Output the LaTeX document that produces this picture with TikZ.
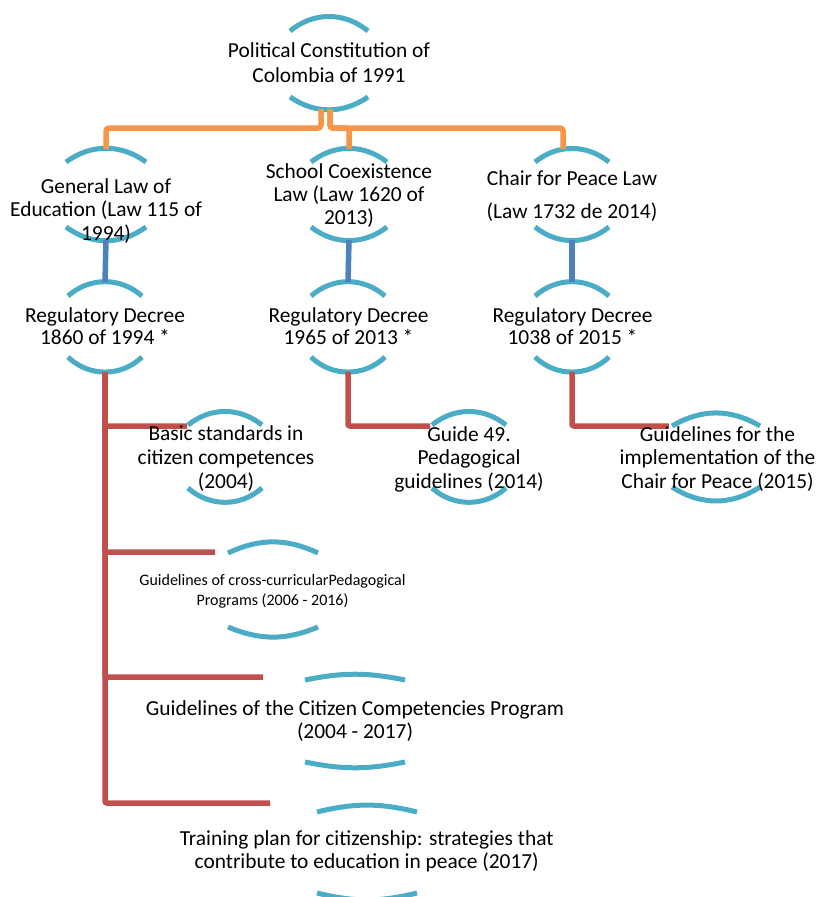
\documentclass[tikz,border=0pt]{standalone}
\usepackage{fontspec}
\setmainfont{Carlito}

\definecolor{ringcol}{HTML}{4BACC6}
\definecolor{orangecol}{HTML}{F79646}
\definecolor{bluecol}{HTML}{4F81BD}
\definecolor{redcol}{HTML}{C0504D}

\tikzset{
  ringarc/.style={draw=ringcol, line width=5pt},
  orangeline/.style={draw=orangecol, line width=5.5pt, rounded corners=3pt},
  blueline/.style={draw=bluecol, line width=5.5pt},
  redline/.style={draw=redcol, line width=5.5pt, rounded corners=2pt},
  boxtext/.style={align=center, inner sep=0pt, anchor=north, text=black,
                  font=\fontsize{21.4}{#1}\selectfont},
  boxtext/.default=25,
}

% A pair of arcs (one above, one below) framing a label.
% #1 name, #2 centre x, #3 half width, #4 top peak y, #5 top ends y,
% #6 bottom ends y, #7 bottom peak y   (y grows downwards)
\newcommand\ringpair[7]{%
  \pgfmathsetmacro\ringtop{2*atan(((#5)-(#4))/(#3))}%
  \pgfmathsetmacro\ringbot{2*atan(((#7)-(#6))/(#3))}%
  \coordinate (#1-t) at (#2,#4);
  \coordinate (#1-b) at (#2,#7);
  \draw[ringarc] (#2-#3,#5) to[bend left=\ringtop] (#2+#3,#5);
  \draw[ringarc] (#2-#3,#6) to[bend right=\ringbot] (#2+#3,#6);
}

\begin{document}
\begin{tikzpicture}[x=1pt, y=-1pt]
  \fill[white] (0,0) rectangle (818,897);
  \useasboundingbox (0,0) rectangle (818,897);

  % arcs
  \ringpair{const}{329}{39}{17}{31}{97}{109}
  \ringpair{gen}{106}{40}{149}{162}{227}{240}
  \ringpair{school}{349}{38}{149}{162}{227}{240}
  \ringpair{chair}{572}{37}{149}{162}{227}{240}
  \ringpair{decA}{105}{37}{282}{296}{357}{372}
  \ringpair{decB}{348}{37}{282}{296}{357}{372}
  \ringpair{decC}{572}{37}{282}{296}{357}{372}
  \ringpair{basic}{225}{37}{412}{425}{488}{502}
  \ringpair{guide}{469}{37}{412}{425}{488}{502}
  \ringpair{impl}{716}{44}{414}{426}{487}{500}
  \ringpair{cross}{273}{45}{543}{553}{627}{636}
  \ringpair{citizen}{355}{50}{675}{680}{762}{767}
  \ringpair{plan}{367}{50}{806}{812}{893}{899}

  % free ends of the red branches
  \coordinate (basic-w) at (187,426);
  \coordinate (guide-w) at (430,426);
  \coordinate (impl-w) at (669,426);
  \coordinate (cross-w) at (215,552);
  \coordinate (citizen-w) at (263,677);
  \coordinate (plan-w) at (270,803);

  % constitution -> laws
  \draw[orangeline] ([xshift=-8pt]const-b) -- ++(0,19) -| (gen-t);
  \draw[orangeline] ([xshift=1pt]const-b) -- ++(0,19) -| (school-t);
  \draw[orangeline] ([xshift=1pt]const-b) -- ++(0,19) -| ([xshift=-9pt]chair-t);

  % laws -> decrees
  \draw[blueline] (gen-b) -- (decA-t);
  \draw[blueline] (school-b) -- (decB-t);
  \draw[blueline] (chair-b) -- (decC-t);

  % decrees -> documents
  \draw[redline] (decA-b) |- (basic-w);
  \draw[redline] (decA-b) |- (cross-w);
  \draw[redline] (decA-b) |- (citizen-w);
  \draw[redline] (decA-b) |- (plan-w);
  \draw[redline] (decB-b) |- (guide-w);
  \draw[redline] (decC-b) |- (impl-w);

  % labels
  \node[boxtext=25] (const) at (329,39.5)
    {\strut Political Constitution of\\\strut Colombia of 1991};
  \node[boxtext=23.5] (gen) at (106,176.5)
    {\strut General Law of\\\strut Education (Law 115 of\\\strut 1994)};
  \node[boxtext=23] (school) at (349,161.9)
    {\strut School Coexistence\\\strut Law (Law 1620 of\\\strut 2013)};
  \node[boxtext=33] (chair) at (572,161.9)
    {\strut Chair for Peace Law\\\strut (Law 1732 de 2014)};
  \node[boxtext=21.5] (decA) at (105,307)
    {\strut Regulatory Decree\\\strut 1860 of 1994 *};
  \node[boxtext=21.5] (decB) at (348.5,307)
    {\strut Regulatory Decree\\\strut 1965 of 2013 *};
  \node[boxtext=21.5] (decC) at (572.5,307)
    {\strut Regulatory Decree\\\strut 1038 of 2015 *};
  \node[boxtext=24] (basic) at (226,423.2)
    {\strut Basic standards in\\\strut citizen competences\\\strut (2004)};
  \node[boxtext=23.5] (guide) at (469,424.5)
    {\strut Guide 49.\\\strut Pedagogical\\\strut guidelines (2014)};
  \node[boxtext=23.5] (impl) at (717.5,424.5)
    {\strut Guidelines for the\\\strut implementation of the\\\strut Chair for Peace (2015)};
  \node[boxtext, font=\fontsize{16}{20}\selectfont] (cross) at (272.5,571)
    {\strut Guidelines of cross-curricularPedagogical\\\strut Programs (2006 - 2016)};
  \node[boxtext=23] (citizen) at (355,698.9)
    {\strut Guidelines of the Citizen Competencies Program\\\strut (2004 - 2017)};
  \node[boxtext=23] (plan) at (366.7,828.9)
    {\strut Training plan for citizenship: strategies that\\\strut contribute to education in peace (2017)};
\end{tikzpicture}
\end{document}
